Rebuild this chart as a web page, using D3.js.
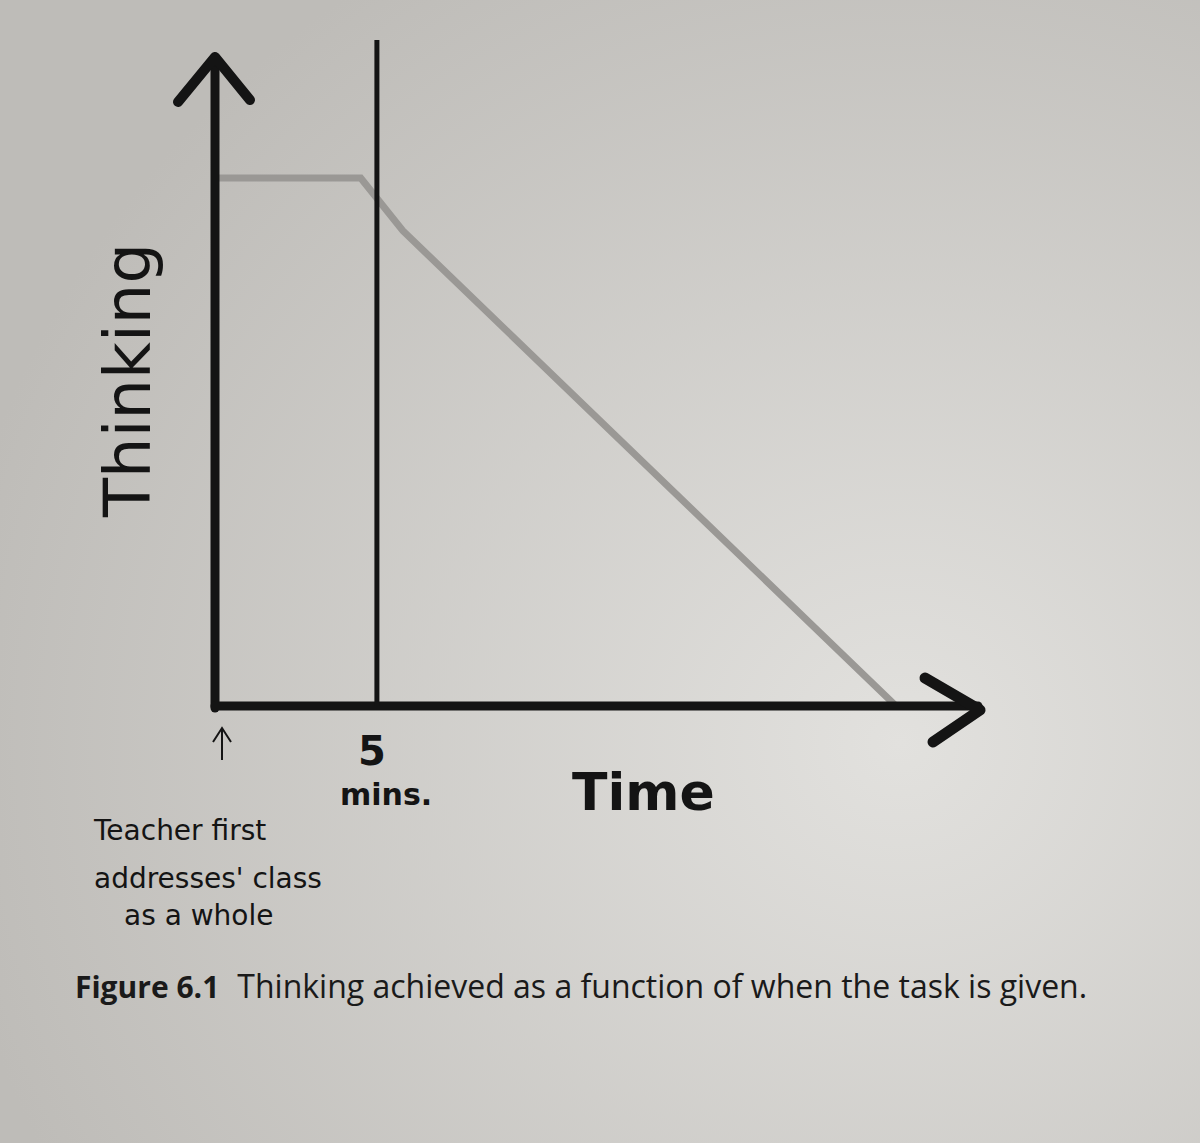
<!DOCTYPE html><html><head><meta charset="utf-8">
<script src="https://cdn.jsdelivr.net/npm/d3@7"></script>
<style>body{margin:0;background:#d6d4d1}</style></head><body>
<script>
const timeMins=[0,4.5,5.8,21];
const thinking=[100,100,90,0];
const markerTime=[5];
const W=1200,H=1143;
const svg=d3.select("body").append("svg").attr("width",W).attr("height",H);
const defs=svg.append("defs");
const g=defs.append("radialGradient").attr("id","bg").attr("cx","75%").attr("cy","65%").attr("r","80%");
g.append("stop").attr("offset","0%").attr("stop-color","#e2e1de");
g.append("stop").attr("offset","100%").attr("stop-color","#bebcb8");
svg.append("rect").attr("width",W).attr("height",H).attr("fill","url(#bg)");
const x=d3.scaleLinear().domain([0,21]).range([215,895]);
const y=d3.scaleLinear().domain([0,100]).range([705,178]);
const ink="#141414";
svg.append("path").datum(timeMins.map((t,i)=>[t,thinking[i]]))
 .attr("d",d3.line().x(d=>x(d[0])).y(d=>y(d[1])))
 .attr("fill","none").attr("stroke","#9a9895").attr("stroke-width",7);
svg.append("line").attr("x1",x(0)).attr("x2",x(0)).attr("y1",708).attr("y2",62).attr("stroke",ink).attr("stroke-width",9).attr("stroke-linecap","round");
svg.append("path").attr("d",`M${x(0)-37},102 L${x(0)},57 L${x(0)+35},100`).attr("fill","none").attr("stroke",ink).attr("stroke-width",10).attr("stroke-linecap","round").attr("stroke-linejoin","round");
svg.append("line").attr("x1",x(0)).attr("x2",978).attr("y1",706).attr("y2",706).attr("stroke",ink).attr("stroke-width",9).attr("stroke-linecap","round");
svg.append("path").attr("d",`M925,678 L980,710 L933,742`).attr("fill","none").attr("stroke",ink).attr("stroke-width",11).attr("stroke-linecap","round").attr("stroke-linejoin","round");
svg.selectAll(".m").data(markerTime).enter().append("line").attr("x1",d=>x(d)).attr("x2",d=>x(d)).attr("y1",40).attr("y2",706).attr("stroke",ink).attr("stroke-width",5);
svg.append("path").attr("d","M222,760 L222,730 M213,742 L222,728 L231,742").attr("fill","none").attr("stroke",ink).attr("stroke-width",2);
const hf="'Comic Sans MS','DejaVu Sans',sans-serif";
const t=(s,xx,yy,sz,w)=>svg.append("text").attr("x",xx).attr("y",yy).attr("font-family",hf).attr("font-size",sz).attr("font-weight",w||"normal").attr("fill",ink).text(s);
svg.append("text").attr("transform","translate(150,380) rotate(-90)").attr("text-anchor","middle").attr("font-family",hf).attr("font-size",64).attr("fill",ink).text("Thinking");
t("5",358,765,40,"bold");
t("mins.",340,805,30,"bold");
t("Time",572,810,52,"600");
t("Teacher first",94,840,28);
t("addresses' class",94,888,28);
t("as a whole",124,925,28);
svg.append("text").attr("x",75).attr("y",998).attr("font-family","'Open Sans',sans-serif").attr("fill","#1a1a1a")
 .call(s=>{s.append("tspan").attr("font-weight","bold").attr("font-size",30).text("Figure 6.1");s.append("tspan").attr("dx",18).attr("font-size",32).text("Thinking achieved as a function of when the task is given.");});
</script></body></html>
